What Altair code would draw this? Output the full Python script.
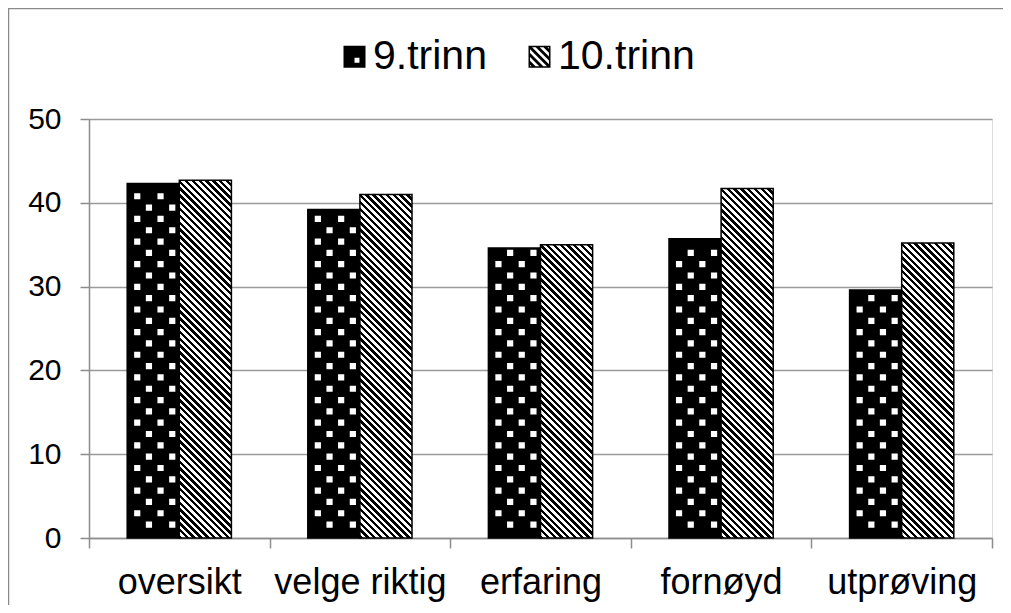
import altair as alt
import pandas as pd

# ---- data ----
categories = ["oversikt", "velge riktig", "erfaring", "fornøyd", "utprøving"]
series = ["9.trinn", "10.trinn"]
values_9 = [42.3, 39.2, 34.6, 35.7, 29.6]
values_10 = [42.7, 41.0, 35.0, 41.7, 35.2]
y_ticks = [0, 10, 20, 30, 40, 50]

rows = []
for c, v9, v10 in zip(categories, values_9, values_10):
    rows.append({"kategori": c, "trinn": series[0], "verdi": v9})
    rows.append({"kategori": c, "trinn": series[1], "verdi": v10})
df = pd.DataFrame(rows)

# ---- layout / style ----
W, H = 903, 419
FONT = "Liberation Sans"
GRAY = "#8c8c8c"
STEP = W / len(categories)
XO_PAD = 0.733
BAR_W = STEP / (2 + 2 * XO_PAD)
STRIPE_PERIOD = 6.8  # horizontal px period of diagonal hatch


def clip(poly, f):
    out = []
    n = len(poly)
    for i in range(n):
        p, q = poly[i], poly[(i + 1) % n]
        fp, fq = f(p), f(q)
        if fp >= 0:
            out.append(p)
        if (fp >= 0) != (fq >= 0):
            t = fp / (fp - fq)
            out.append((p[0] + t * (q[0] - p[0]), p[1] + t * (q[1] - p[1])))
    return out


def poly_path(poly):
    pts = " L".join(f"{x:.3f},{y:.3f}" for x, y in poly)
    return f"M{pts}Z"


# legend symbol for 9.trinn: black square with a white hole
path9 = "M-1,-1H1V1H-1Z M0,0.1V0.55H0.45V0.1Z"
# legend symbol for 10.trinn: outlined square with diagonal stripes
a_in = 0.86
inner = [(-a_in, -a_in), (a_in, -a_in), (a_in, a_in), (-a_in, a_in)]
parts = ["M-1,-1H1V1H-1Z", f"M{-a_in},{-a_in}V{a_in}H{a_in}V{-a_in}Z"]
for c in [-1.4, -0.7, 0.0, 0.7, 1.4]:
    hw = 0.18
    poly = clip(inner, lambda p, c=c: (p[0] - p[1]) - (c - hw))
    poly = clip(poly, lambda p, c=c: (c + hw) - (p[0] - p[1]))
    if len(poly) >= 3:
        parts.append(poly_path(poly))
path10 = " ".join(parts)

# white square dots (pixel units, size=4 -> scale 1)
def sq(cx, half=3.1):
    return f"M{cx-half:.2f},{-half:.2f}H{cx+half:.2f}V{half:.2f}H{cx-half:.2f}Z"

dots_A = sq(-16.0) + " " + sq(7.3)
dots_B = sq(-4.3) + " " + sq(19.0)


def hatch_gradient(value):
    h = value * H / 50.0
    w = BAR_W
    r = h / w
    lam = (1 + r) / (1 + r * r)
    n = max(1, round((w + h) / STRIPE_PERIOD))
    stops = []
    for i in range(n):
        stops.append(alt.GradientStop(color="black", offset=i / n))
        stops.append(alt.GradientStop(color="black", offset=(i + 0.5) / n))
        stops.append(alt.GradientStop(color="white", offset=(i + 0.5) / n))
        stops.append(alt.GradientStop(color="white", offset=(i + 1) / n))
    return alt.LinearGradient(gradient="linear", stops=stops,
                              x1=0, y1=1, x2=lam, y2=1 - lam * r)


x_enc = alt.X("kategori:N", sort=categories,
              scale=alt.Scale(domain=categories, paddingInner=0, paddingOuter=0),
              axis=alt.Axis(title=None, labelFontSize=36, labelFont=FONT, labelColor="black",
                            labelPadding=17, tickBand="extent", tickSize=10, tickColor=GRAY,
                            tickWidth=1.5, domainColor=GRAY, domainWidth=1.5, labelAngle=0,
                            grid=False, labelLimit=400))
xo_enc = alt.XOffset("trinn:N", sort=series,
                     scale=alt.Scale(domain=series, paddingInner=0, paddingOuter=XO_PAD))
y_axis = alt.Axis(title=None, values=y_ticks, labelFontSize=30, labelFont=FONT,
                  labelColor="black", labelPadding=19, tickSize=9, tickColor=GRAY,
                  tickWidth=1.5, domainColor=GRAY, domainWidth=1.5,
                  gridColor="#9a9a9a", gridWidth=1.5)
y_scale = alt.Scale(domain=[0, 50], nice=False)

base = alt.Chart(df)

legend_layer = base.transform_calculate(halv="datum.verdi / 2").mark_point(
    filled=True, fill="black", size=100, opacity=1, strokeWidth=0
).encode(
    x=x_enc, xOffset=xo_enc,
    y=alt.Y("halv:Q", scale=y_scale, axis=y_axis, title=None),
    shape=alt.Shape("trinn:N", sort=series,
                    scale=alt.Scale(domain=series, range=[path9, path10]),
                    legend=alt.Legend(orient="none", legendX=245, legendY=-83,
                                      direction="horizontal", title=None,
                                      labelFontSize=41, labelFont=FONT, labelColor="black",
                                      symbolSize=484, labelOffset={"expr": "-2"},
                                      columnPadding=32,
                                      symbolStrokeWidth=0, symbolFillColor="black",
                                      symbolOpacity=1, padding=0, labelLimit=400)),
)

y_enc = alt.Y("verdi:Q", scale=y_scale, axis=y_axis, title=None)

bars9 = base.transform_filter(f"datum.trinn == '{series[0]}'").mark_bar(
    fill="black", stroke="black", strokeWidth=1.5
).encode(x=x_enc, xOffset=xo_enc, y=y_enc)

bars10 = []
for c, v in zip(categories, values_10):
    bars10.append(
        base.transform_filter(f"datum.trinn == '{series[1]}' && datum.kategori == '{c}'")
        .mark_bar(fill=hatch_gradient(v), stroke="black", strokeWidth=1.5)
        .encode(x=x_enc, xOffset=xo_enc, y=y_enc)
    )

dots_base = base.transform_filter(f"datum.trinn == '{series[0]}'").transform_calculate(
    rad="sequence(0, floor((datum.verdi - 1.95) / 1.351) + 1)"
).transform_flatten(["rad"]).transform_calculate(
    ypos="1.6 + datum.rad * 1.351", rtype="datum.rad % 2"
)
dotsB = dots_base.transform_filter("datum.rtype == 0").mark_point(
    shape=dots_B, size=4, filled=True, fill="white", opacity=1, strokeWidth=0
).encode(x=x_enc, xOffset=xo_enc, y=alt.Y("ypos:Q", scale=y_scale, axis=y_axis, title=None))
dotsA = dots_base.transform_filter("datum.rtype == 1").mark_point(
    shape=dots_A, size=4, filled=True, fill="white", opacity=1, strokeWidth=0
).encode(x=x_enc, xOffset=xo_enc, y=alt.Y("ypos:Q", scale=y_scale, axis=y_axis, title=None))

frame_df = pd.DataFrame({"k": [0]})
frame_top = alt.Chart(frame_df).mark_rule(color="#8a8a8a", strokeWidth=1.5).encode(
    x=alt.value(-81), x2=alt.value(W + 11), y=alt.value(-110.5))
frame_left = alt.Chart(frame_df).mark_rule(color="#8a8a8a", strokeWidth=1.5).encode(
    x=alt.value(-80.5), y=alt.value(-111), y2=alt.value(H + 67))

chart = alt.layer(
    legend_layer, bars9, *bars10, dotsB, dotsA, frame_top, frame_left
).properties(
    width=W, height=H,
    autosize=alt.AutoSizeParams(type="none"),
    padding={"left": 81, "top": 111, "right": 11, "bottom": 67},
).configure_view(strokeWidth=0).configure(background="white")

chart.save("out.html", embed_options={"renderer": "svg", "actions": False})
